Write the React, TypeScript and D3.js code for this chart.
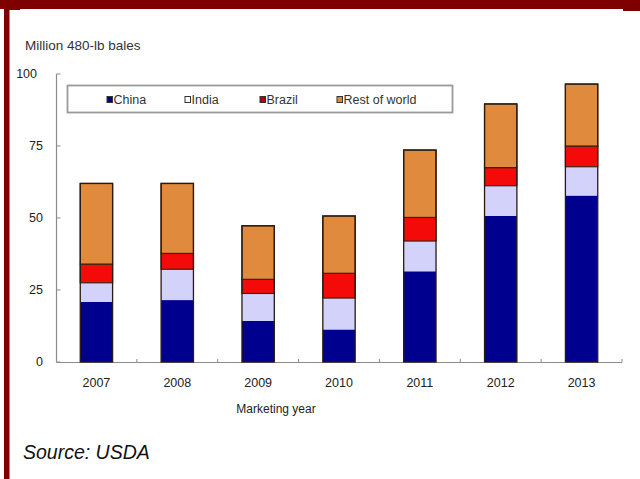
import React from "react";
import * as d3 from "d3";

const years = ["2007", "2008", "2009", "2010", "2011", "2012", "2013"];
const china = [20.9, 21.5, 14.3, 11.3, 31.5, 50.7, 57.8];
const india = [6.6, 10.7, 9.5, 10.9, 10.5, 10.5, 10.0];
const brazil = [6.5, 5.5, 4.9, 8.6, 8.2, 6.3, 7.2];
const rest = [28.0, 24.3, 18.6, 19.9, 23.4, 22.1, 21.5];
const seriesNames = ["China", "India", "Brazil", "Rest of world"];
const yTicks = [0, 25, 50, 75, 100];

const colors: Record<string, string> = {
  China: "#00008f",
  India: "#d2d2fb",
  Brazil: "#f50a0a",
  "Rest of world": "#e08a3e",
};
const legendSwatch: Record<string, string> = {
  China: "#000080",
  India: "#ffffff",
  Brazil: "#b00010",
  "Rest of world": "#e08a3e",
};

export default function App() {
  const W = 640, H = 479;
  const x = d3.scaleBand<string>().domain(years).range([56, 622]).paddingInner(0.6).paddingOuter(0.3);
  const y = d3.scaleLinear().domain([0, 100]).range([362, 74]);

  const table = years.map((yr, i) => ({
    year: yr,
    China: china[i],
    India: india[i],
    Brazil: brazil[i],
    "Rest of world": rest[i],
  }));
  const stacked = d3.stack<any>().keys(seriesNames)(table);

  const font = "'Liberation Sans', Arial, sans-serif";
  const step = x.step();
  const boundaries = d3.range(1, years.length + 1).map((k) => 56 + k * step);

  const legendX = [107, 185, 260, 337];

  return (
    <svg width={W} height={H} style={{ position: "absolute", left: 0, top: 0, background: "#fff" }} fontFamily={font}>
      <rect x={0} y={0} width={W} height={H} fill="#fff" />
      {/* frame */}
      <rect x={0} y={0} width={W} height={9} fill="#7f0000" />
      <rect x={623} y={0} width={17} height={11} fill="#7f0000" />
      <rect x={4} y={0} width={5.5} height={H} fill="#7f0000" />
      <rect x={9} y={8} width={11} height={2} fill="#7f0000" />

      {/* title */}
      <text x={25} y={45} dy="0.35em" fontSize={13.5} fill="#333">Million 480-lb bales</text>

      {/* y axis */}
      <line x1={56.5} x2={56.5} y1={y(100)} y2={y(0)} stroke="#8a8a8a" strokeWidth={1.2} />
      {yTicks.map((t) => (
        <g key={t}>
          <line x1={56.5} x2={60.5} y1={y(t)} y2={y(t)} stroke="#8a8a8a" strokeWidth={1} />
          <text x={t === 100 ? 37 : 43} y={y(t)} dy="0.35em" textAnchor="end" fontSize={12.5} fill="#222">{t}</text>
        </g>
      ))}

      {/* x axis */}
      <line x1={56.5} x2={622} y1={y(0) + 0.5} y2={y(0) + 0.5} stroke="#8a8a8a" strokeWidth={1.2} />
      {boundaries.map((b, i) => (
        <line key={i} x1={b} x2={b} y1={y(0)} y2={y(0) - 3} stroke="#8a8a8a" strokeWidth={1} />
      ))}
      {years.map((yr) => (
        <text key={yr} x={(x(yr) as number) + x.bandwidth() / 2} y={383} dy="0.35em" textAnchor="middle" fontSize={12.5} fill="#222">{yr}</text>
      ))}
      <text x={276} y={409} dy="0.35em" textAnchor="middle" fontSize={12} fill="#222">Marketing year</text>

      {/* bars */}
      {stacked.map((s) => (
        <g key={s.key}>
          {s.map((d, i) => (
            <rect
              key={i}
              x={x(years[i]) as number}
              y={y(d[1])}
              width={x.bandwidth()}
              height={y(d[0]) - y(d[1])}
              fill={colors[s.key]}
              stroke={s.key === "India" || s.key === "China" ? "none" : "#3a2414"}
              strokeWidth={1.2}
            />
          ))}
        </g>
      ))}
      {/* bar outlines */}
      {years.map((yr, i) => {
        const tot = china[i] + india[i] + brazil[i] + rest[i];
        return (
          <rect key={yr} x={x(yr) as number} y={y(tot)} width={x.bandwidth()} height={y(0) - y(tot)} fill="none" stroke="#2a1a10" strokeWidth={1.3} />
        );
      })}

      {/* legend */}
      <rect x={67.5} y={85.5} width={385} height={27} fill="#fff" stroke="#9a9a9a" strokeWidth={1.8} />
      {seriesNames.map((n, i) => (
        <g key={n}>
          <rect x={legendX[i]} y={96.5} width={5.5} height={6} fill={legendSwatch[n]} stroke="#333" strokeWidth={1} />
          <text x={legendX[i] + 6.5} y={100} dy="0.35em" fontSize={12.5} fill="#333">{n}</text>
        </g>
      ))}

      {/* source */}
      <text x={23} y={452} dy="0.35em" fontSize={19.5} fontStyle="italic" fill="#111">Source: USDA</text>
    </svg>
  );
}
